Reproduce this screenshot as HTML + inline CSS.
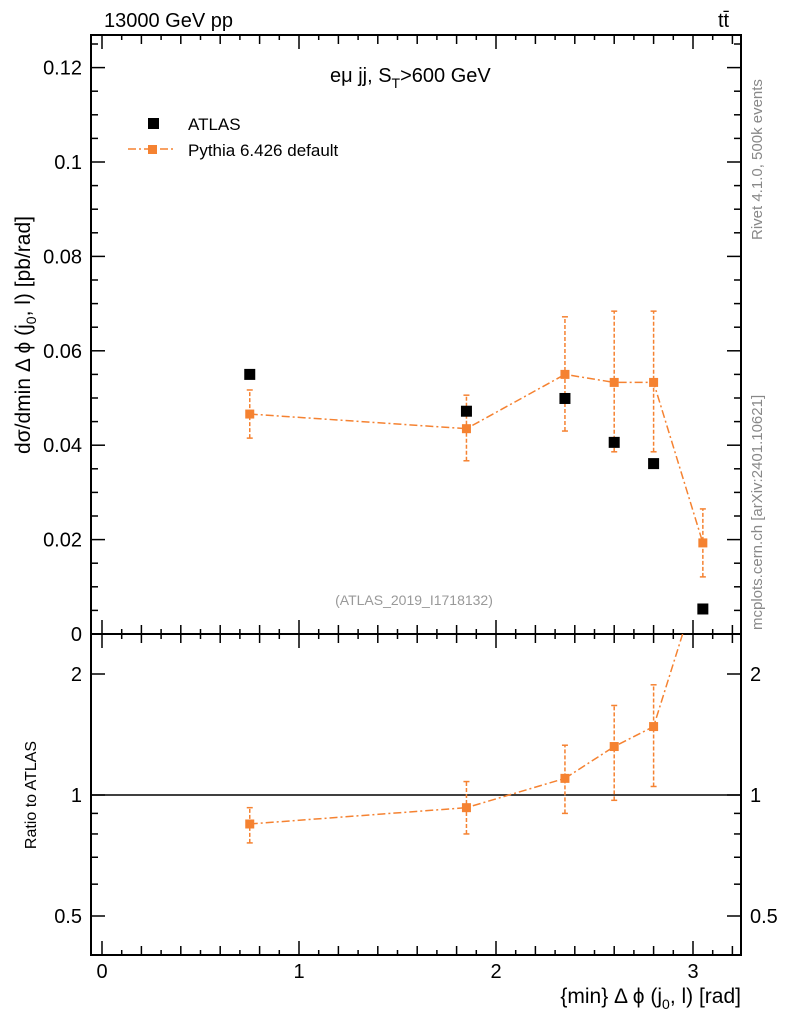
<!DOCTYPE html>
<html><head><meta charset="utf-8"><style>
body{margin:0;background:#fff;}
svg text{font-family:"Liberation Sans",sans-serif;}
</style></head><body>
<svg id="c" width="786" height="1024" xmlns="http://www.w3.org/2000/svg"></svg>
<script>
const xCenters=[0.75,1.85,2.35,2.6,2.8,3.05];
const atlasVals=[0.055,0.0472,0.0499,0.0406,0.0361,0.0053];
const pyVals=[0.0466,0.0435,0.0550,0.0533,0.0533,0.0193];
const pyErrLo=[0.0415,0.0367,0.0430,0.0386,0.0386,0.0121];
const pyErrHi=[0.0517,0.0506,0.0672,0.0684,0.0684,0.0265];
const ratioVals=[0.847,0.93,1.10,1.32,1.48,3.64];
const ratioLo=[0.76,0.80,0.90,0.97,1.05,2.6];
const ratioHi=[0.93,1.08,1.33,1.67,1.88,5.0];
const yTicks=[0,0.02,0.04,0.06,0.08,0.1,0.12];
const yTickLabels=["0","0.02","0.04","0.06","0.08","0.1","0.12"];
const xTicks=[0,1,2,3];
const rTicks=[0.5,1,2];

const svg=document.getElementById('c');
const NS='http://www.w3.org/2000/svg';
const L=91,R=741,T=35,MB=634,RB=955;
const X=v=>102+(v)*197;
const Y=v=>634-v*4720;
const RY=v=>795-Math.log2(v)*121;
function el(tag,attrs,txt,parent){const e=document.createElementNS(NS,tag);for(const k in attrs)e.setAttribute(k,attrs[k]);if(txt!=null)e.textContent=txt;(parent||svg).appendChild(e);return e;}
const orange='#f58231';

let f1=el('rect',{x:L,y:T,width:R-L,height:MB-T,fill:'none',stroke:'#000','stroke-width':2});

let f2=el('rect',{x:L,y:MB,width:R-L,height:RB-MB,fill:'none',stroke:'#000','stroke-width':2});


for(let i=0;i<=32;i++){const v=i/10;const x=X(v);if(x<L||x>R)continue;
 const len=i%10===0?14:(i%2===0?9:5);
 for(const [yb,yt] of [[MB,T],[RB,MB]]){
  el('line',{x1:x,x2:x,y1:yb,y2:yb-len,stroke:'#000','stroke-width':1.5});
  el('line',{x1:x,x2:x,y1:yt,y2:yt+len,stroke:'#000','stroke-width':1.5});
 }}
xTicks.forEach(v=>{let t=el('text',{x:X(v),y:978,'font-size':20,'text-anchor':'middle'},String(v));});

for(let i=0;i<=26;i++){const v=i*0.005;const y=Y(v);if(y<T)continue;const len=i%4===0?14:7;
 el('line',{x1:L,x2:L+len,y1:y,y2:y,stroke:'#000','stroke-width':1.5});
 el('line',{x1:R,x2:R-len,y1:y,y2:y,stroke:'#000','stroke-width':1.5});}
yTicks.forEach((v,i)=>{let t=el('text',{x:82,y:Y(v)+7,'font-size':20,'text-anchor':'end'},yTickLabels[i]);});

const rMinor=[0.4,0.5,0.6,0.7,0.8,0.9,1,2];
rMinor.forEach(v=>{const y=RY(v);const len=rTicks.includes(v)?14:7;
 el('line',{x1:L,x2:L+len,y1:y,y2:y,stroke:'#000','stroke-width':1.5});
 el('line',{x1:R,x2:R-len,y1:y,y2:y,stroke:'#000','stroke-width':1.5});});
rTicks.forEach(v=>{
 let t=el('text',{x:82,y:RY(v)+7,'font-size':20,'text-anchor':'end'},String(v));
 let t2=el('text',{x:750,y:RY(v)+7,'font-size':20},String(v));});
let one=el('line',{x1:L,x2:R,y1:RY(1),y2:RY(1),stroke:'#000','stroke-width':1.5});


const cr=el('clipPath',{id:'cr'});el('rect',{x:L,y:MB,width:R-L,height:RB-MB},null,cr);
let pl=el('polyline',{points:xCenters.map((x,i)=>X(x)+','+Y(pyVals[i])).join(' '),fill:'none',stroke:orange,'stroke-width':1.5,'stroke-dasharray':'8,3,2,3'});

xCenters.forEach((x,i)=>{const px=X(x);
 let e=el('line',{x1:px,x2:px,y1:Y(pyErrLo[i]),y2:Y(pyErrHi[i]),stroke:orange,'stroke-width':1.5,'stroke-dasharray':'4,2'});
 
 [pyErrLo[i],pyErrHi[i]].forEach(v=>el('line',{x1:px-3,x2:px+3,y1:Y(v),y2:Y(v),stroke:orange,'stroke-width':1.5}));
 let m=el('rect',{x:px-4.5,y:Y(pyVals[i])-4.5,width:9,height:9,fill:orange});
 
 let a=el('rect',{x:px-5.5,y:Y(atlasVals[i])-5.5,width:11,height:11,fill:'#000'});
 
});
const g=el('g',{'clip-path':'url(#cr)'});
let rl=el('polyline',{points:xCenters.map((x,i)=>X(x)+','+RY(ratioVals[i])).join(' '),fill:'none',stroke:orange,'stroke-width':1.5,'stroke-dasharray':'8,3,2,3'},null,g);

xCenters.forEach((x,i)=>{const px=X(x);
 let e=el('line',{x1:px,x2:px,y1:RY(ratioLo[i]),y2:RY(ratioHi[i]),stroke:orange,'stroke-width':1.5,'stroke-dasharray':'4,2'},null,g);
 
 [ratioLo[i],ratioHi[i]].forEach(v=>el('line',{x1:px-3,x2:px+3,y1:RY(v),y2:RY(v),stroke:orange,'stroke-width':1.5},null,g));
 let m=el('rect',{x:px-4.5,y:RY(ratioVals[i])-4.5,width:9,height:9,fill:orange},null,g);
 
});

let la=el('rect',{x:148,y:118,width:11,height:11,fill:'#000'});
let lat=el('text',{x:188,y:130,'font-size':17},'ATLAS');
el('line',{x1:128,x2:176,y1:149,y2:149,stroke:orange,'stroke-width':1.5,'stroke-dasharray':'8,3,2,3'});
el('rect',{x:148,y:145,width:9,height:9,fill:orange});
let lpt=el('text',{x:188,y:156,'font-size':17},'Pythia 6.426 default');
</script>
<svg width="786" height="1024" style="position:absolute;left:0;top:0" xmlns="http://www.w3.org/2000/svg">
<text x="104" y="27" font-size="20" font-family="Liberation Sans">13000 GeV pp</text>
<text x="718" y="27" font-size="20" font-family="Liberation Sans">tt̄</text>
<text x="330" y="82" font-size="20" font-family="Liberation Sans">eμ jj, S<tspan font-size="14" dy="6">T</tspan><tspan dy="-6">&gt;600 GeV</tspan></text>
<text x="414" y="605" font-size="14" fill="#999" text-anchor="middle" font-family="Liberation Sans">(ATLAS_2019_I1718132)</text>
<text transform="translate(30,335) rotate(-90)" font-size="21" text-anchor="middle" font-family="Liberation Sans">dσ/dmin Δ ϕ (j<tspan font-size="14" dy="6">0</tspan><tspan dy="-6">, l) [pb/rad]</tspan></text>
<text transform="translate(36,795) rotate(-90)" font-size="16" text-anchor="middle" font-family="Liberation Sans">Ratio to ATLAS</text>
<text x="741" y="1003" font-size="21" text-anchor="end" font-family="Liberation Sans">{min} Δ ϕ (j<tspan font-size="14" dy="6">0</tspan><tspan dy="-6">, l) [rad]</tspan></text>
<text transform="translate(762,240) rotate(-90)" font-size="15" fill="#888" font-family="Liberation Sans">Rivet 4.1.0,  500k events</text>
<text transform="translate(762,630) rotate(-90)" font-size="15" fill="#888" font-family="Liberation Sans">mcplots.cern.ch [arXiv:2401.10621]</text>
</svg>
</body></html>
